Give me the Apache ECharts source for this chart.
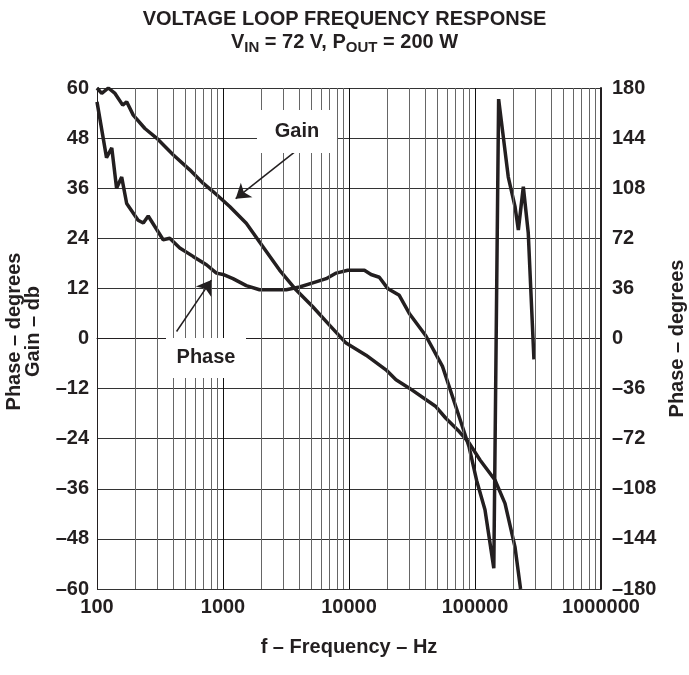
<!DOCTYPE html>
<html>
<head>
<meta charset="utf-8">
<script src="https://cdn.jsdelivr.net/npm/echarts@6/dist/echarts.min.js"></script>
<style>
  html, body { margin: 0; padding: 0; background: #fff; }
  #chart { width: 689px; height: 675px; }
</style>
</head>
<body>
<div id="chart"></div>
<script>
  // gain curve (left axis, dB)
  const gainFreq = [100, 109, 123, 139, 160, 172, 194, 240, 297, 402, 545, 695, 834, 1130, 1530, 2075, 2810, 3810, 5160, 7000, 9480, 13650, 19660, 23600, 30100, 48900, 58700, 74900, 89800, 109600, 144000, 173000, 207600, 230000]
  const gainDb = [60, 58.7, 60, 58.7, 55.9, 56.7, 53.5, 50.3, 48, 44, 40.4, 37.2, 35.2, 31.6, 27.6, 22, 16.4, 11.6, 7.6, 3.2, -1.1, -4, -7.5, -9.9, -11.9, -16.3, -19.1, -22.3, -25, -29.1, -33.9, -39.5, -49.9, -60]

  // phase curve (right axis, degrees)
  const phaseFreq = [100, 119, 131, 143, 157, 172, 212, 233, 255, 335, 378, 454, 579, 739, 887, 1000, 1200, 1530, 1950, 3180, 4050, 5160, 6590, 7910, 9780, 13250, 14960, 17400, 20250, 25060, 30100, 40700, 55200, 70500, 89800, 103000, 120000, 141000, 154000, 183700, 207600, 220800, 241800, 264600, 293600]
  const phaseDeg = [170, 130, 137, 108, 116, 97, 85, 83, 88, 71, 72, 65, 59, 53, 47, 46, 43, 38, 35, 35, 37, 40, 43, 47, 49, 49, 46, 44, 36, 31, 18, 2, -20, -49, -78, -102, -123, -165, 172, 116, 95, 78, 109, 76, -15]

  const decades = [100, 1000, 10000, 100000]
  const minorSteps = [2, 3, 4, 5, 6, 7, 8, 9]

  const minorLines = []
  decades.forEach(d => minorSteps.forEach(m => minorLines.push({ xAxis: d * m })))

  const ink = '#231f20'
  const font = 'Liberation Sans, Arial, sans-serif'
  const dash = v => v < 0 ? '\u2013' + Math.abs(v) : String(v)
  const bold = { fontFamily: font, fontSize: 20, fontWeight: 'bold', color: ink }

  const chart = echarts.init(document.getElementById('chart'))
  const option = {
    animation: false,
    title: {
      text: 'VOLTAGE LOOP FREQUENCY RESPONSE\nV{s|IN} = 72 V, P{s|OUT} = 200 W',
      left: 'center',
      top: 3,
      textStyle: {
        ...bold,
        lineHeight: 23,
        rich: {
          s: { fontFamily: font, fontSize: 15, fontWeight: 'bold', color: ink, padding: [10, 0, 0, 0] }
        }
      }
    },
    grid: { left: 97, right: 88, top: 88, bottom: 86, outerBoundsMode: 'none', containLabel: false },
    xAxis: {
      type: 'log',
      logBase: 10,
      min: 100,
      max: 1000000,
      splitNumber: 4,
      name: 'f \u2013 Frequency \u2013 Hz',
      nameLocation: 'middle',
      nameGap: 48,
      nameTextStyle: bold,
      axisLine: { lineStyle: { color: ink, width: 1 } },
      axisTick: { show: false },
      axisLabel: { ...bold, margin: 8, formatter: v => String(Math.round(v)) },
      splitLine: { show: true, lineStyle: { color: '#111', width: 1 } }
    },
    yAxis: [{
      type: 'value',
      min: -60,
      max: 60,
      interval: 12,
      name: 'Phase \u2013 degrees\nGain \u2013 db',
      nameLocation: 'middle',
      nameRotate: 90,
      nameGap: 54,
      nameTextStyle: { ...bold, lineHeight: 19, padding: [0, 0, 0, 14] },
      axisLine: { show: true, lineStyle: { color: ink, width: 1 } },
      axisTick: { show: false },
      axisLabel: { ...bold, margin: 8, formatter: dash },
      splitLine: { show: true, lineStyle: { color: '#333', width: 1 } }
    }, {
      type: 'value',
      min: -180,
      max: 180,
      interval: 36,
      name: 'Phase \u2013 degrees',
      nameLocation: 'middle',
      nameRotate: 90,
      nameGap: 60,
      nameTextStyle: bold,
      axisLine: { show: true, lineStyle: { color: ink, width: 2 } },
      axisTick: { show: false },
      axisLabel: { ...bold, margin: 11, formatter: dash },
      splitLine: { show: false }
    }],
    series: [{
      // minor decade grid lines
      type: 'line',
      data: [],
      silent: true,
      markLine: {
        silent: true,
        symbol: ['none', 'none'],
        label: { show: false },
        lineStyle: { color: '#666', width: 1, type: 'solid' },
        data: minorLines
      }
    }, {
      name: 'Gain',
      type: 'line',
      yAxisIndex: 0,
      showSymbol: false,
      lineStyle: { color: ink, width: 3.5 },
      data: gainFreq.map((f, i) => [f, gainDb[i]]),
      markPoint: {
        symbol: 'rect',
        symbolSize: [80, 43],
        itemStyle: { color: '#fff' },
        label: { show: true, formatter: '{b}', ...bold },
        data: [{ name: 'Gain', coord: [3865, 49.6] }]
      },
      markLine: {
        symbol: ['none', 'arrow'],
        symbolSize: 14,
        label: { show: false },
        lineStyle: { color: ink, width: 1.5, type: 'solid' },
        data: [[{ coord: [4050, 45.6] }, { coord: [1260, 33.5] }]]
      }
    }, {
      name: 'Phase',
      type: 'line',
      yAxisIndex: 1,
      showSymbol: false,
      lineStyle: { color: ink, width: 3.5 },
      data: phaseFreq.map((f, i) => [f, phaseDeg[i]]),
      markPoint: {
        symbol: 'rect',
        symbolSize: [80, 40],
        itemStyle: { color: '#fff' },
        label: { show: true, formatter: '{b}', ...bold },
        data: [{ name: 'Phase', coord: [733, -14] }]
      },
      markLine: {
        symbol: ['none', 'arrow'],
        symbolSize: 14,
        label: { show: false },
        lineStyle: { color: ink, width: 1.5, type: 'solid' },
        data: [[{ coord: [428, 5] }, { coord: [809, 42] }]]
      }
    }]
  }
  chart.setOption(option)
</script>
</body>
</html>
